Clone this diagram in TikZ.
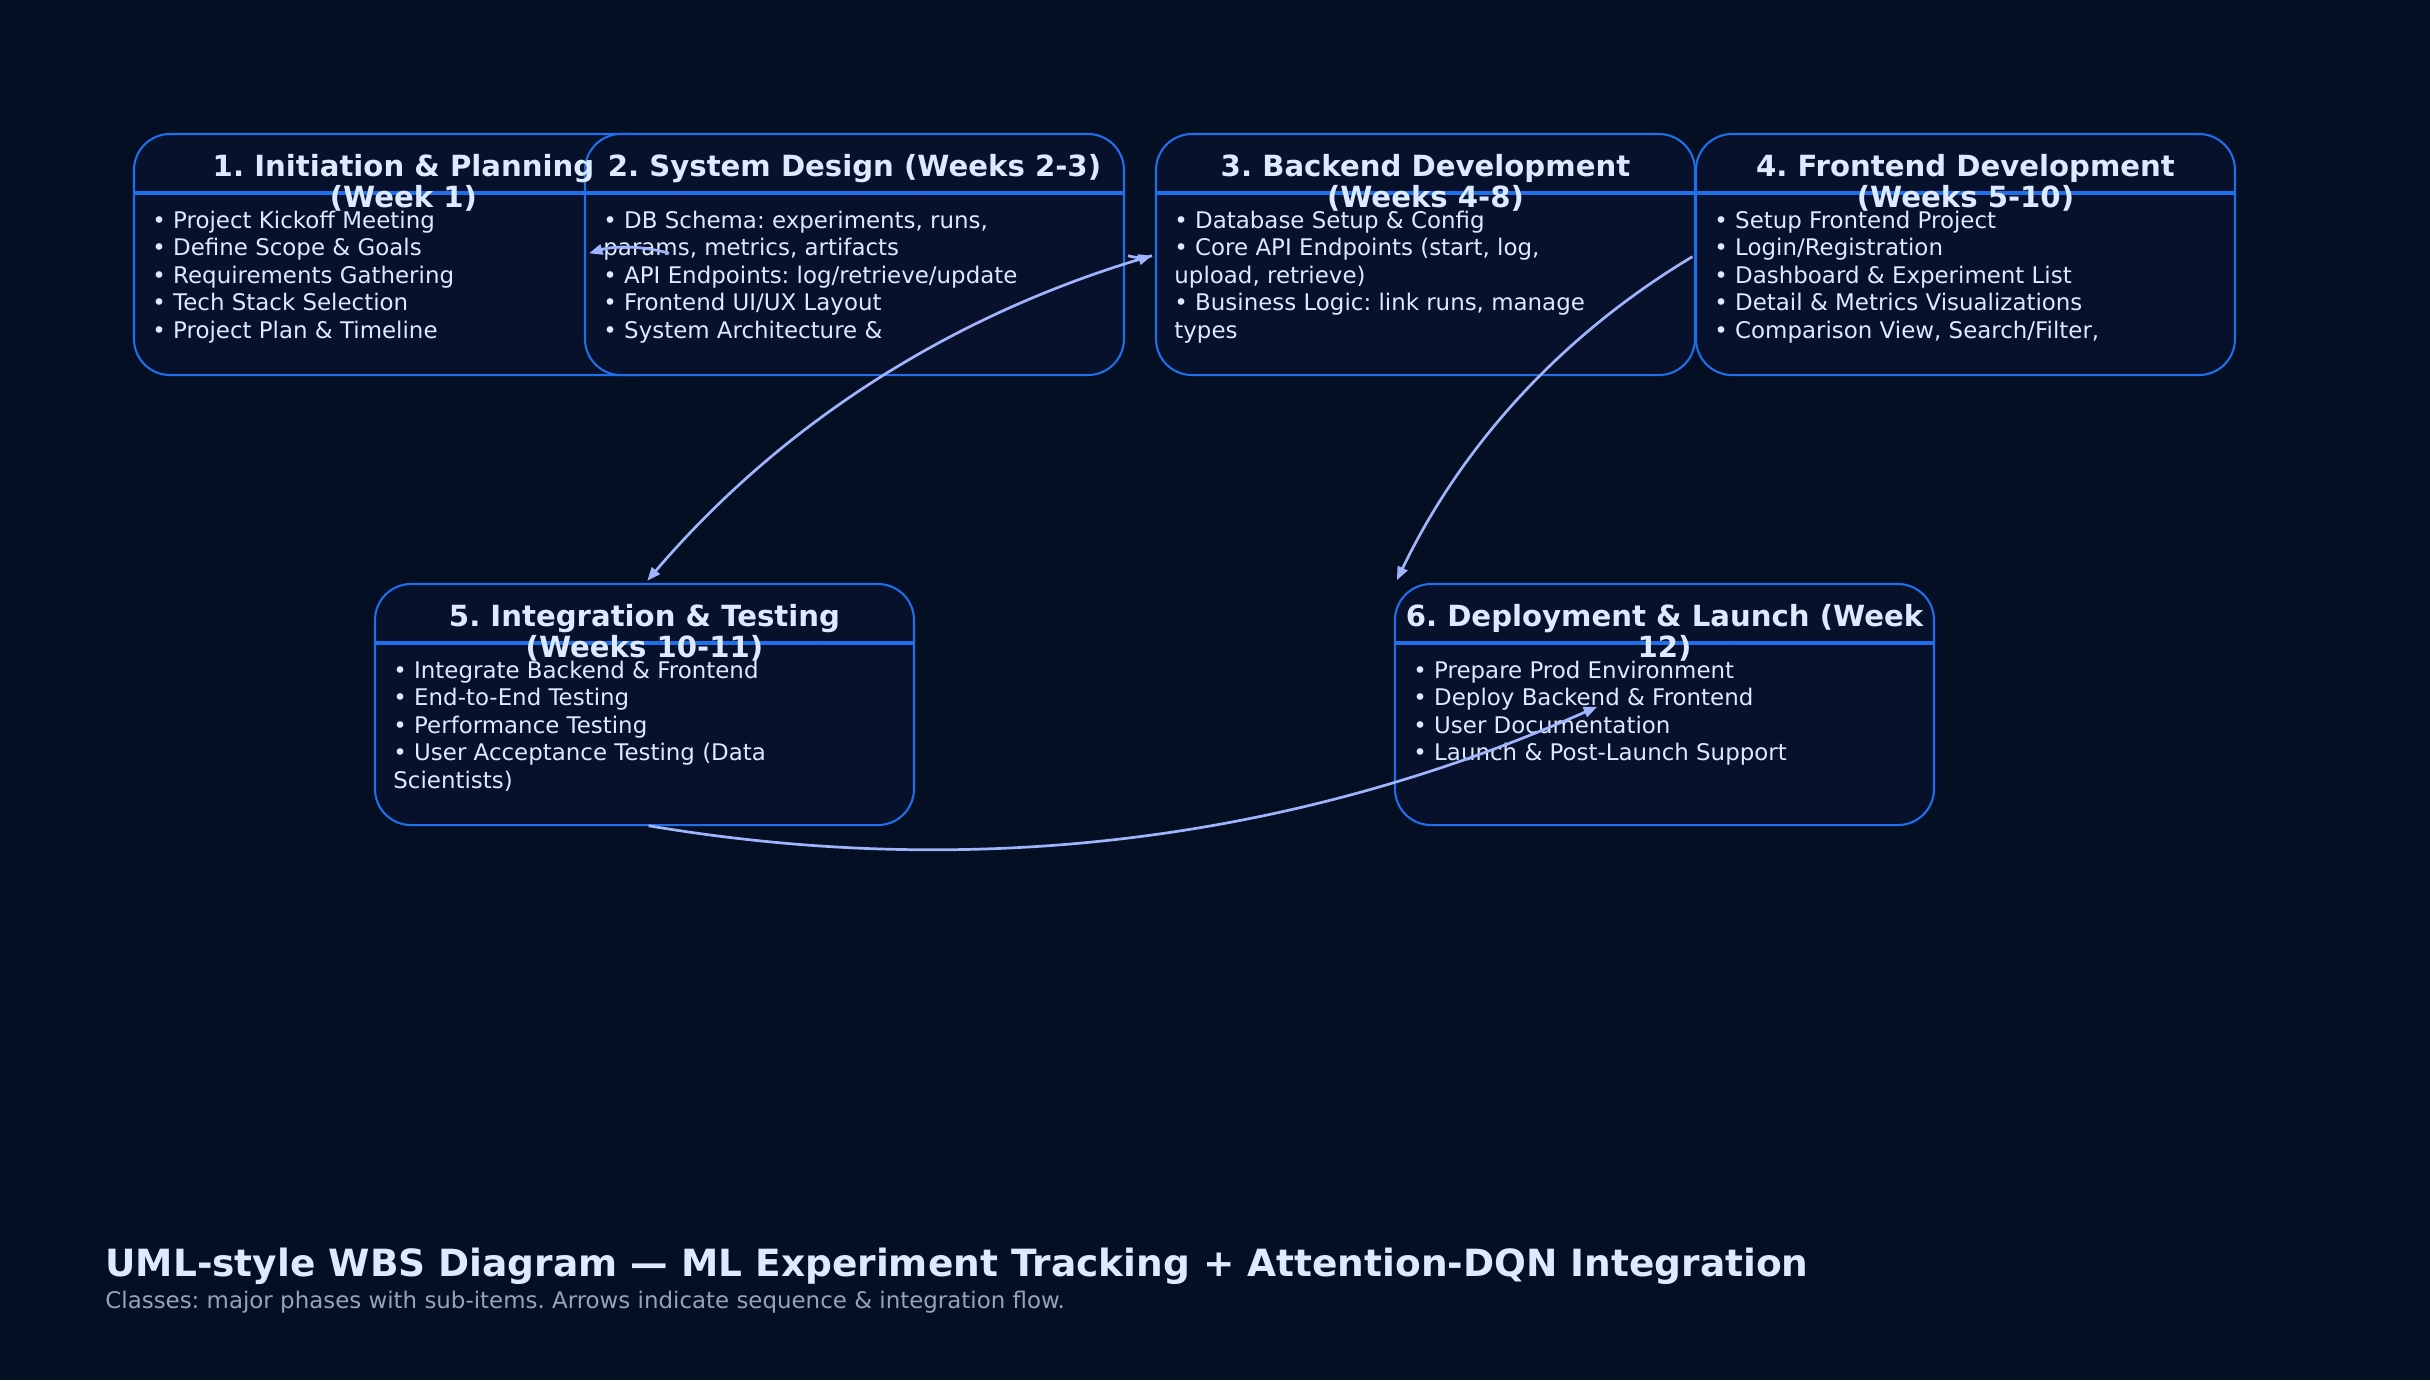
\documentclass[tikz,border=0pt]{standalone}
\usepackage{fontspec}
\setmainfont{DejaVu Sans}
\usetikzlibrary{arrows.meta}
\definecolor{bg}{HTML}{050F23}
\definecolor{boxfill}{HTML}{07112B}
\definecolor{boxline}{HTML}{1F6FEB}
\definecolor{txt}{HTML}{DBEAFE}
\definecolor{arrowc}{HTML}{A0B4FD}
\definecolor{subc}{HTML}{94A3B8}
\newcommand{\ttlstrut}{\rule{0pt}{12pt}}
\begin{document}
\frenchspacing
\begin{tikzpicture}[x=0.48pt,y=-0.48pt,
  phase/.style={draw=boxline, line width=1pt, fill=boxfill, rounded corners=17.3pt,
    minimum width=258.7pt, minimum height=115.7pt, inner sep=0pt, outer sep=0pt, anchor=north west},
  divider/.style={draw=boxline, line width=1.5pt},
  ttl/.style={anchor=north, align=center, inner sep=0pt, text=txt,
    font=\fontsize{14}{14.9}\selectfont\bfseries},
  body/.style={anchor=north west, align=left, inner sep=0pt, text=txt,
    font=\fontsize{11}{13.2}\selectfont},
  flow/.style={draw=arrowc, line width=1.3pt, -{Triangle[length=6.5pt,width=5pt]},
    shorten >=2pt, shorten <=2pt, bend right=16.7, looseness=0.89}]
\fill[bg] (0,0) rectangle (2430,1380);
\useasboundingbox (0,0) rectangle (2430,1380);

% boxes
\node[phase] (b1) at (134,134) {};
\draw[divider] ([yshift=-28.32pt]b1.north west) -- ([yshift=-28.32pt]b1.north east);
\node[phase] (b2) at (585,134) {};
\draw[divider] ([yshift=-28.32pt]b2.north west) -- ([yshift=-28.32pt]b2.north east);
\node[phase] (b3) at (1156,134) {};
\draw[divider] ([yshift=-28.32pt]b3.north west) -- ([yshift=-28.32pt]b3.north east);
\node[phase] (b4) at (1696,134) {};
\draw[divider] ([yshift=-28.32pt]b4.north west) -- ([yshift=-28.32pt]b4.north east);
\node[phase] (b5) at (375,584) {};
\draw[divider] ([yshift=-28.32pt]b5.north west) -- ([yshift=-28.32pt]b5.north east);
\node[phase] (b6) at (1395,584) {};
\draw[divider] ([yshift=-28.32pt]b6.north west) -- ([yshift=-28.32pt]b6.north east);

% titles
\node[ttl] (t1) at ([yshift=-8.4pt]b1.north) {\ttlstrut 1. Initiation \& Planning\\(Week 1)};
\node[ttl] (t2) at ([yshift=-8.4pt]b2.north) {\ttlstrut 2. System Design (Weeks 2-3)};
\node[ttl] (t3) at ([yshift=-8.4pt]b3.north) {\ttlstrut 3. Backend Development\\(Weeks 4-8)};
\node[ttl] (t4) at ([yshift=-8.4pt]b4.north) {\ttlstrut 4. Frontend Development\\(Weeks 5-10)};
\node[ttl] (t5) at ([yshift=-8.4pt]b5.north) {\ttlstrut 5. Integration \& Testing\\(Weeks 10-11)};
\node[ttl] (t6) at ([yshift=-8.4pt]b6.north) {\ttlstrut 6. Deployment \& Launch (Week\\12)};

% bodies
\node[body] (d1) at ([xshift=8.64pt,yshift=-35.9pt]b1.north west) {\strut • Project Kickoff Meeting\\• Define Scope \& Goals\\• Requirements Gathering\\• Tech Stack Selection\\• Project Plan \& Timeline};
\node[body] (d2) at ([xshift=8.64pt,yshift=-35.9pt]b2.north west) {\strut • DB Schema: experiments, runs,\\params, metrics, artifacts\\• API Endpoints: log/retrieve/update\\• Frontend UI/UX Layout\\• System Architecture \&};
\node[body] (d3) at ([xshift=8.64pt,yshift=-35.9pt]b3.north west) {\strut • Database Setup \& Config\\• Core API Endpoints (start, log,\\upload, retrieve)\\• Business Logic: link runs, manage\\types};
\node[body] (d4) at ([xshift=8.64pt,yshift=-35.9pt]b4.north west) {\strut • Setup Frontend Project\\• Login/Registration\\• Dashboard \& Experiment List\\• Detail \& Metrics Visualizations\\• Comparison View, Search/Filter,};
\node[body] (d5) at ([xshift=8.64pt,yshift=-35.9pt]b5.north west) {\strut • Integrate Backend \& Frontend\\• End-to-End Testing\\• Performance Testing\\• User Acceptance Testing (Data\\Scientists)};
\node[body] (d6) at ([xshift=8.64pt,yshift=-35.9pt]b6.north west) {\strut • Prepare Prod Environment\\• Deploy Backend \& Frontend\\• User Documentation\\• Launch \& Post-Launch Support};

% connectors
\coordinate (a5end) at (1601,705);
\draw[flow] (b1.east) to (b2.west);
\draw[flow] (b2.east) to (b3.west);
\draw[flow] (b3.west) to (b5.north);
\draw[flow] (b4.west) to (b6.north west);
\draw[flow] (b5.south) to (a5end);

% caption
\node[anchor=base west, inner sep=0pt, text=txt, font=\fontsize{18}{21.6}\selectfont\bfseries] (title) at (105,1276)
  {UML-style WBS Diagram — ML Experiment Tracking + Attention-DQN Integration};
\node[anchor=base west, inner sep=0pt, text=subc, font=\fontsize{11}{13.2}\selectfont] (subtitle) at (105,1308.5)
  {Classes: major phases with sub-items. Arrows indicate sequence \& integration flow.};
\end{tikzpicture}
\end{document}
